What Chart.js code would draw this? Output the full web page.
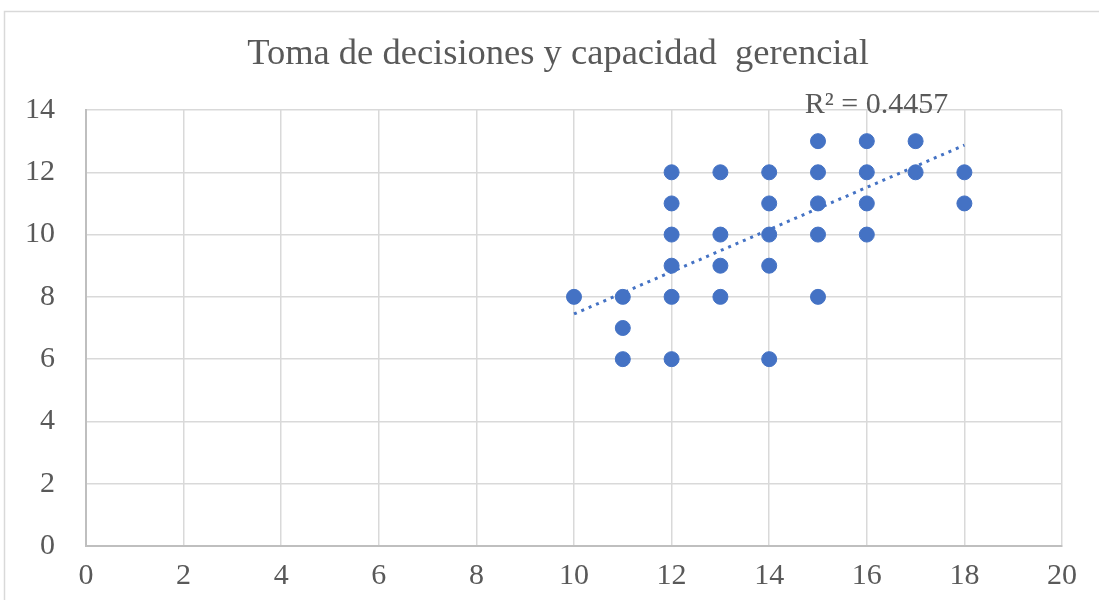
<!DOCTYPE html>
<html>
<head>
<meta charset="utf-8">
<script src="https://cdn.jsdelivr.net/npm/chart.js@4.4.1/dist/chart.umd.min.js"></script>
<style>
  html, body { margin: 0; padding: 0; background: #fff; }
  #wrap { width: 1099px; height: 600px; }
</style>
</head>
<body>
<div id="wrap"><canvas id="chart" width="1099" height="600"></canvas></div>
<script>
const titleText = 'Toma de decisiones y capacidad  gerencial';

// x = toma de decisiones, y = capacidad gerencial
const xValues = [10, 11, 11, 11, 12, 12, 12, 12, 12, 12, 13, 13, 13, 13, 14, 14, 14, 14, 14, 15, 15, 15, 15, 15, 16, 16, 16, 16, 17, 17, 18, 18];
const yValues = [8, 8, 7, 6, 12, 11, 10, 9, 8, 6, 12, 10, 9, 8, 12, 11, 10, 9, 6, 13, 12, 11, 10, 8, 13, 12, 11, 10, 13, 12, 12, 11];

// linear trendline
const trendX = [10, 18];
const trendY = [7.45, 12.87];
const r2Label = 'R² = 0.4457';

const xTicks = [0, 2, 4, 6, 8, 10, 12, 14, 16, 18, 20];
const yTicks = [0, 2, 4, 6, 8, 10, 12, 14];

const blue = '#4472C4';
const textGrey = '#595959';
const serif = "'Liberation Serif', 'Times New Roman', serif";

const frame = {
  id: 'frame',
  beforeDraw(chart) {
    const ctx = chart.ctx;
    ctx.save();
    ctx.strokeStyle = '#d9d9d9';
    ctx.lineWidth = 1.5;
    ctx.strokeRect(4.5, 11.5, 1200, 700);
    // title, centred on the whole chart frame
    ctx.font = '36.5px ' + serif;
    ctx.fillStyle = textGrey;
    ctx.textAlign = 'center';
    ctx.textBaseline = 'middle';
    ctx.fillText(titleText, 558, 54);
    ctx.restore();
  },
  afterDatasetsDraw(chart) {
    const ctx = chart.ctx;
    const xs = chart.scales.x, ys = chart.scales.y;
    ctx.save();
    ctx.font = '30px ' + serif;
    ctx.fillStyle = textGrey;
    ctx.textAlign = 'center';
    ctx.textBaseline = 'middle';
    ctx.fillText(r2Label, xs.getPixelForValue(16.2), ys.getPixelForValue(14.16));
    ctx.restore();
  }
};

new Chart(document.getElementById('chart'), {
  type: 'scatter',
  data: {
    datasets: [
      {
        label: 'Datos',
        data: xValues.map((x, i) => ({ x: x, y: yValues[i] })),
        backgroundColor: blue,
        borderColor: blue,
        pointRadius: 7.5,
        pointHoverRadius: 7.5,
        order: 1,
      },
      {
        label: 'Lineal',
        type: 'line',
        data: trendX.map((x, i) => ({ x: x, y: trendY[i] })),
        borderColor: blue,
        borderWidth: 3,
        borderDash: [3, 5],
        pointRadius: 0,
        fill: false,
        order: 2,
      },
    ],
  },
  options: {
    responsive: false,
    animation: false,
    layout: { padding: { left: 0, right: 37, top: 110, bottom: 0 } },
    scales: {
      x: {
        type: 'linear',
        min: 0,
        max: 20,
        afterBuildTicks: (s) => { s.ticks = xTicks.map((v) => ({ value: v })); },
        afterFit: (s) => { s.height = 54; },
        ticks: {
          padding: 12,
          color: textGrey,
          font: { family: serif, size: 30 },
        },
        grid: { color: '#d9d9d9', lineWidth: 1.5, drawTicks: false },
        border: { color: '#bfbfbf', width: 2 },
      },
      y: {
        min: 0,
        max: 14,
        afterBuildTicks: (s) => { s.ticks = yTicks.map((v) => ({ value: v })); },
        afterFit: (s) => { s.width = 86; },
        ticks: {
          padding: 31,
          color: textGrey,
          font: { family: serif, size: 30 },
        },
        grid: { color: '#d9d9d9', lineWidth: 1.5, drawTicks: false },
        border: { color: '#bfbfbf', width: 2 },
      },
    },
    plugins: {
      legend: { display: false },
      tooltip: { enabled: false },
      title: { display: false },
    },
  },
  plugins: [frame],
});
</script>
</body>
</html>
